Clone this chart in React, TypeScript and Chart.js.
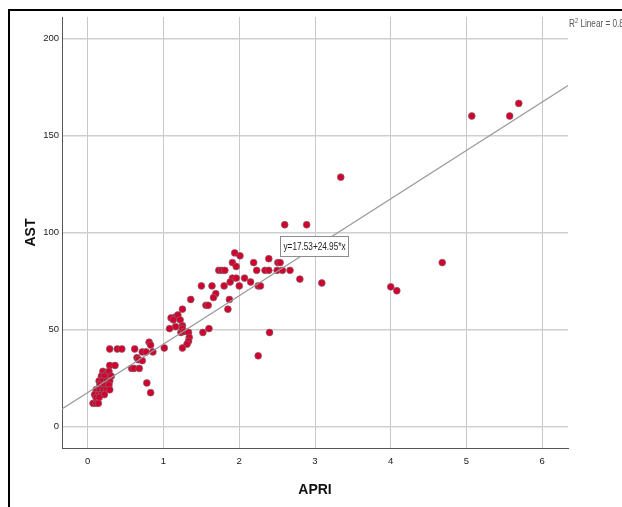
import React, { useEffect, useRef } from "react";
import { Chart, registerables } from "chart.js";

Chart.register(...registerables);

// ---- data ----
const apriValues = [
  5.07, 5.57, 5.69, 3.34, 2.60, 2.89, 4.68, 4.00, 4.08, 3.09, 2.80, 2.40, 2.25,
  1.94, 2.01, 1.91, 1.96, 1.73, 1.77, 1.81, 2.19, 2.39, 2.51, 2.54, 2.23, 2.34, 2.39, 2.50, 2.57, 2.67,
  2.25, 2.28, 2.15, 2.07, 1.91, 1.96, 1.88, 2.00, 1.80, 1.50, 1.64, 1.69, 1.66, 1.36, 1.87, 1.85, 1.56, 1.59, 1.25,
  1.10, 1.16, 1.19, 1.13, 1.22, 1.25, 1.08, 1.16, 1.23, 1.25, 1.27, 1.33, 1.34, 1.33, 1.52, 1.60, 1.31, 1.25, 1.01, 0.86, 0.81, 0.83,
  0.29, 0.39, 0.45, 0.62, 0.72, 0.77, 0.65, 0.67, 0.72, 0.58, 0.61, 0.68, 0.78, 0.83, 0.29, 0.36,
  0.20, 0.25, 0.28, 0.31, 0.18, 0.22, 0.15, 0.19, 0.25, 0.29, 0.16, 0.22, 0.28, 0.11, 0.16, 0.20, 0.25, 0.29,
  0.09, 0.14, 0.18, 0.22, 0.11, 0.15, 0.07, 0.11, 0.14,
];
const astValues = [
  160, 160, 166.5, 128.5, 104, 104, 84.5, 72, 70, 74, 76, 48.5, 36.5,
  89.5, 88, 84.5, 82.5, 80.5, 80.5, 80.5, 84.5, 86.5, 84.5, 84.5, 80.5, 80.5, 80.5, 80.5, 80.5, 80.5,
  72.5, 72.5, 74.5, 76.5, 76.5, 76.5, 74.5, 72.5, 72.5, 72.5, 72.5, 68.5, 66.5, 65.5, 65.5, 60.5, 62.5, 62.5, 60.5,
  56, 56.5, 57.5, 55, 55, 52, 50.5, 51.5, 48.5, 50.5, 49, 48.5, 46, 44, 48.5, 50.5, 42.5, 40.5, 40.5, 38.5, 43.5, 42,
  40, 40, 40, 40, 38.5, 38.5, 35.5, 34.5, 34, 30, 30, 30, 22.5, 17.5, 31.5, 31.5,
  28.5, 27.5, 28.5, 26, 26, 26, 23.5, 23.5, 23.5, 23.5, 21.5, 21.5, 21.5, 19, 19, 19, 19, 19,
  16.5, 16.5, 16.5, 16.5, 15, 15, 12, 12, 12,
];
const xTickValues = [0, 1, 2, 3, 4, 5, 6];
const yTickValues = [0, 50, 100, 150, 200];
const xRange = [-0.34, 6.34];
const yRange = [-11, 211];
const fitIntercept = 17.53;
const fitSlope = 24.95;
const fitLabel = "y=17.53+24.95*x";
const r2Label = ["R", "2", " Linear = 0.8"];
const xTitle = "APRI";
const yTitle = "AST";
const eqLabelAnchor = { x: 2.54, y: 98 };

const FONT = "'Liberation Sans', Arial, sans-serif";
const NARROW = 0.82;

export default function App() {
  const ref = useRef<HTMLCanvasElement | null>(null);

  useEffect(() => {
    const canvas = ref.current;
    if (!canvas) return;

    const points = apriValues.map((x, i) => ({ x, y: astValues[i] }));
    const fitLine = xRange.map((x) => ({ x, y: fitIntercept + fitSlope * x }));

    const framePlugin = {
      id: "frame",
      beforeDraw(chart: any) {
        const ctx = chart.ctx;
        ctx.save();
        ctx.fillStyle = "#ffffff";
        ctx.fillRect(0, 0, chart.width, chart.height);
        ctx.fillStyle = "#000000";
        ctx.fillRect(8, 9, chart.width - 8, 2);
        ctx.fillRect(8, 9, 2, chart.height - 9);
        ctx.restore();
      },
      afterDraw(chart: any) {
        const ctx = chart.ctx;
        const xs = chart.scales.x;
        const ys = chart.scales.y;

        // R² label (condensed)
        ctx.save();
        ctx.translate(chart.chartArea.right + 1, 27);
        ctx.scale(NARROW, 1);
        ctx.fillStyle = "#555555";
        ctx.textBaseline = "alphabetic";
        ctx.textAlign = "left";
        let px = 0;
        ctx.font = `10px ${FONT}`;
        ctx.fillText(r2Label[0], px, 0);
        px += ctx.measureText(r2Label[0]).width;
        ctx.font = `7px ${FONT}`;
        ctx.fillText(r2Label[1], px, -4);
        px += ctx.measureText(r2Label[1]).width;
        ctx.font = `10px ${FONT}`;
        ctx.fillText(r2Label[2], px, 0);
        ctx.restore();

        // equation box
        ctx.save();
        ctx.font = `10px ${FONT}`;
        const tw = ctx.measureText(fitLabel).width * NARROW;
        const bx = Math.round(xs.getPixelForValue(eqLabelAnchor.x)) + 0.5;
        const by = Math.round(ys.getPixelForValue(eqLabelAnchor.y)) + 0.5;
        const bw = Math.round(tw + 6);
        const bh = 20;
        ctx.fillStyle = "#ffffff";
        ctx.fillRect(bx, by, bw, bh);
        ctx.strokeStyle = "#8c8c8c";
        ctx.lineWidth = 1;
        ctx.strokeRect(bx, by, bw, bh);
        ctx.translate(bx + 3, by + bh / 2 + 0.5);
        ctx.scale(NARROW, 1);
        ctx.fillStyle = "#222222";
        ctx.textBaseline = "middle";
        ctx.textAlign = "left";
        ctx.fillText(fitLabel, 0, 0);
        ctx.restore();
      },
    };

    const chart = new Chart(canvas, {
      type: "scatter",
      data: {
        datasets: [
          {
            type: "line",
            label: "fit",
            data: fitLine,
            borderColor: "#9a9a9a",
            borderWidth: 1.2,
            pointRadius: 0,
            fill: false,
          } as any,
          {
            label: "AST",
            data: points,
            backgroundColor: "#d3002d",
            borderColor: "rgba(130,100,110,0.9)",
            borderWidth: 0.8,
            pointRadius: 3.4,
          },
        ],
      },
      options: {
        responsive: false,
        animation: false,
        devicePixelRatio: 1,
        layout: { padding: { left: 0, top: 17, right: 54, bottom: 0 } },
        plugins: {
          legend: { display: false },
          tooltip: { enabled: false },
        },
        scales: {
          x: {
            type: "linear",
            min: xRange[0],
            max: xRange[1],
            afterFit: (s: any) => {
              s.height = 59;
            },
            afterBuildTicks: (s: any) => {
              s.ticks = xTickValues.map((v) => ({ value: v }));
            },
            ticks: {
              includeBounds: false,
              padding: 8,
              color: "#222222",
              font: { family: FONT, size: 9.5 },
              maxRotation: 0,
            },
            grid: { color: "#c8c8c8", lineWidth: 1, drawTicks: false },
            border: { display: true, color: "#555555", width: 1 },
            title: {
              display: true,
              text: xTitle,
              color: "#111111",
              font: { family: FONT, size: 14, weight: "bold" },
              padding: { top: 4, bottom: 8 },
            },
          },
          y: {
            type: "linear",
            min: yRange[0],
            max: yRange[1],
            afterFit: (s: any) => {
              s.width = 62;
            },
            afterBuildTicks: (s: any) => {
              s.ticks = yTickValues.map((v) => ({ value: v }));
            },
            ticks: {
              includeBounds: false,
              padding: 3,
              color: "#222222",
              font: { family: FONT, size: 9.5 },
            },
            grid: { color: "#cfcfcf", lineWidth: 1.6, drawTicks: false },
            border: { display: true, color: "#555555", width: 1 },
            title: {
              display: true,
              text: yTitle,
              color: "#111111",
              font: { family: FONT, size: 14, weight: "bold" },
              padding: { top: 23, bottom: 4 },
            },
          },
        },
      },
      plugins: [framePlugin],
    } as any);

    return () => chart.destroy();
  }, []);

  return (
    <div style={{ position: "fixed", left: 0, top: 0, width: 622, height: 507, background: "#fff" }}>
      <canvas ref={ref} width={622} height={507} style={{ display: "block", width: 622, height: 507 }} />
    </div>
  );
}
